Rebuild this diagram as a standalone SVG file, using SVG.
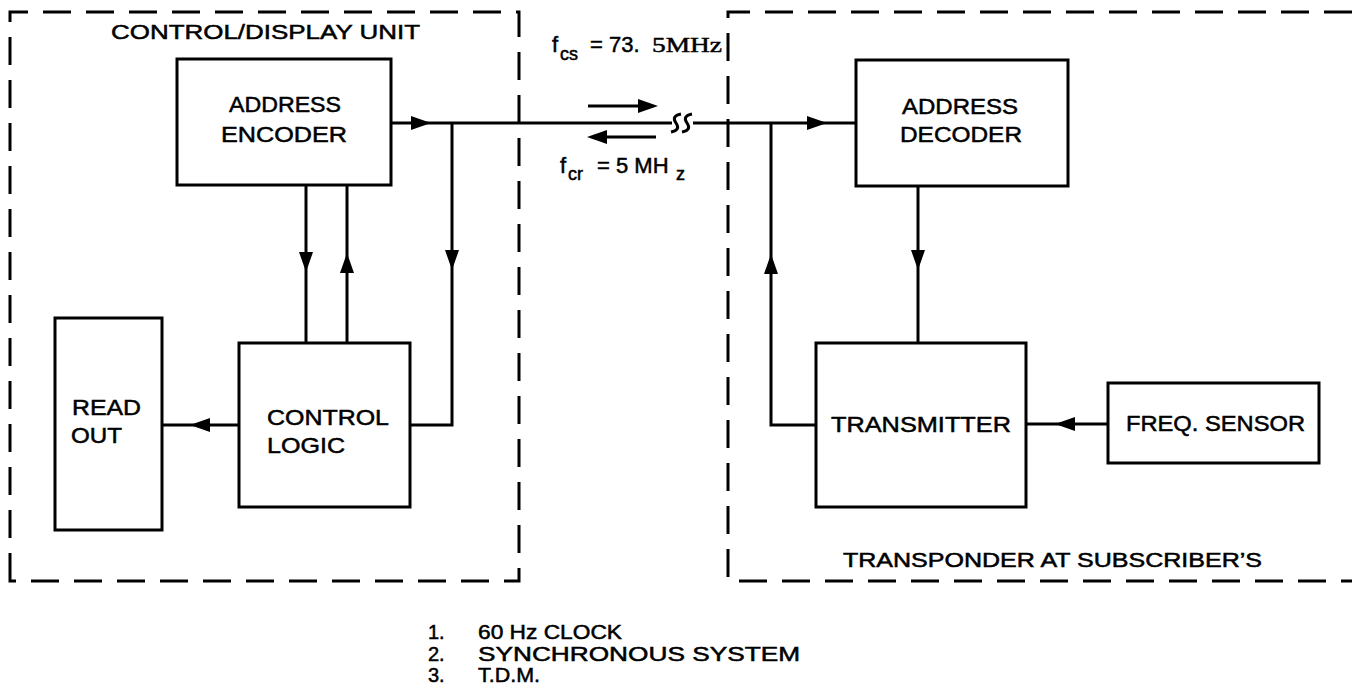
<svg xmlns="http://www.w3.org/2000/svg" xmlns:xlink="http://www.w3.org/1999/xlink" width="1352" height="690" viewBox="0 0 1352 690">
<style>
.box{fill:none;stroke:#000;stroke-width:3}
.dash{fill:none;stroke:#000;stroke-width:3;stroke-dasharray:28 15}
.ln{fill:none;stroke:#000;stroke-width:3}
.t{font-family:"Liberation Sans",Arial,sans-serif;font-size:22px;fill:#000;stroke:#000;stroke-width:0.5}
.s{font-family:"Liberation Sans",Arial,sans-serif;font-size:20px;fill:#000;stroke:#000;stroke-width:0.5}
.serif{font-family:"Liberation Serif","Times New Roman",serif}
</style>
<defs>
<path id="ah" d="M0,0 L-20,-7 L-20,7 Z" fill="#000"/>
</defs>
<rect width="1352" height="690" fill="#fff"/>

<g id="cdu">
<path class="dash" d="M10,581 L10,12 L519,12 L519,581 Z"/>
<text class="s" x="111" y="39" style="font-size:21px" textLength="309" lengthAdjust="spacingAndGlyphs">CONTROL/DISPLAY UNIT</text>
</g>
<g id="transponder">
<path class="dash" d="M1352,12 L728,12 L728,581 L1352,581"/>
<text class="s" x="843" y="567" textLength="419" lengthAdjust="spacingAndGlyphs">TRANSPONDER AT SUBSCRIBER’S</text>
</g>

<g id="encoder">
<rect class="box" x="177" y="59" width="214" height="126"/>
<text class="t" x="229" y="112" textLength="112" lengthAdjust="spacingAndGlyphs">ADDRESS</text>
<text class="t" x="221" y="142" textLength="126" lengthAdjust="spacingAndGlyphs">ENCODER</text>
</g>
<g id="readout">
<rect class="box" x="55" y="318" width="107" height="212"/>
<text class="t" x="72" y="415" textLength="69" lengthAdjust="spacingAndGlyphs">READ</text>
<text class="t" x="71" y="443" textLength="51" lengthAdjust="spacingAndGlyphs">OUT</text>
</g>
<g id="control">
<rect class="box" x="239" y="343" width="171" height="164"/>
<text class="t" x="267" y="425" textLength="122" lengthAdjust="spacingAndGlyphs">CONTROL</text>
<text class="t" x="267" y="453" textLength="78" lengthAdjust="spacingAndGlyphs">LOGIC</text>
</g>
<g id="decoder">
<rect class="box" x="856" y="60" width="212" height="126"/>
<text class="t" x="902" y="114" textLength="116" lengthAdjust="spacingAndGlyphs">ADDRESS</text>
<text class="t" x="900" y="142" textLength="122" lengthAdjust="spacingAndGlyphs">DECODER</text>
</g>
<g id="transmitter">
<rect class="box" x="816" y="343" width="210" height="164"/>
<text class="t" x="831" y="432" textLength="180" lengthAdjust="spacingAndGlyphs">TRANSMITTER</text>
</g>
<g id="sensor">
<rect class="box" x="1108" y="383" width="211" height="80"/>
<text class="t" x="1126" y="431" textLength="179" lengthAdjust="spacingAndGlyphs">FREQ. SENSOR</text>
</g>

<g id="connectors">
<path class="ln" d="M391,123 L672,123"/>
<path class="ln" d="M693,123 L856,123"/>
<path class="ln" d="M681,114 Q671,116 676,123 Q681,130 671,132 M692,114 Q682,116 687,123 Q692,130 682,132"/>
<path class="ln" d="M306,185 L306,343"/>
<path class="ln" d="M347,185 L347,343"/>
<path class="ln" d="M452,123 L452,425 L410,425"/>
<path class="ln" d="M239,425 L162,425"/>
<path class="ln" d="M918,186 L918,343"/>
<path class="ln" d="M816,425 L771,425 L771,123"/>
<path class="ln" d="M1108,424 L1026,424"/>
<path class="ln" d="M588,106 L650,106"/>
<path class="ln" d="M595,137 L656,137"/>
<use xlink:href="#ah" transform="translate(431,123)"/>
<use xlink:href="#ah" transform="translate(827,123)"/>
<use xlink:href="#ah" transform="translate(306,272) rotate(90)"/>
<use xlink:href="#ah" transform="translate(347,253) rotate(-90)"/>
<use xlink:href="#ah" transform="translate(452,270) rotate(90)"/>
<use xlink:href="#ah" transform="translate(190,425) rotate(180)"/>
<use xlink:href="#ah" transform="translate(918,270) rotate(90)"/>
<use xlink:href="#ah" transform="translate(771,254) rotate(-90)"/>
<use xlink:href="#ah" transform="translate(1055,424) rotate(180)"/>
<use xlink:href="#ah" transform="translate(658,106)"/>
<use xlink:href="#ah" transform="translate(587,137) rotate(180)"/>
</g>

<g id="freq-labels">
<text class="t" x="552" y="52" style="font-size:22px">f</text>
<text class="t" x="560" y="60" style="font-size:18px">cs</text>
<text class="t" x="590" y="52" style="font-size:22px">= 73. </text>
<text class="t serif" x="652" y="52" style="font-size:22px" textLength="70" lengthAdjust="spacingAndGlyphs">5MHz</text>
<text class="t" x="560" y="173" style="font-size:22px">f</text>
<text class="t" x="568" y="180" style="font-size:18px">cr</text>
<text class="t" x="597" y="173" style="font-size:22px">= 5 MH</text>
<text class="t" x="676" y="180" style="font-size:18px">z</text>
</g>

<g id="legend">
<text class="s" x="428" y="639">1.</text>
<text class="s" x="478" y="639" textLength="144" lengthAdjust="spacingAndGlyphs">60 Hz CLOCK</text>
<text class="s" x="428" y="661">2.</text>
<text class="s" x="478" y="661" textLength="322" lengthAdjust="spacingAndGlyphs">SYNCHRONOUS SYSTEM</text>
<text class="s" x="428" y="682">3.</text>
<text class="s" x="478" y="682" textLength="62" lengthAdjust="spacingAndGlyphs">T.D.M.</text>
</g>
</svg>
